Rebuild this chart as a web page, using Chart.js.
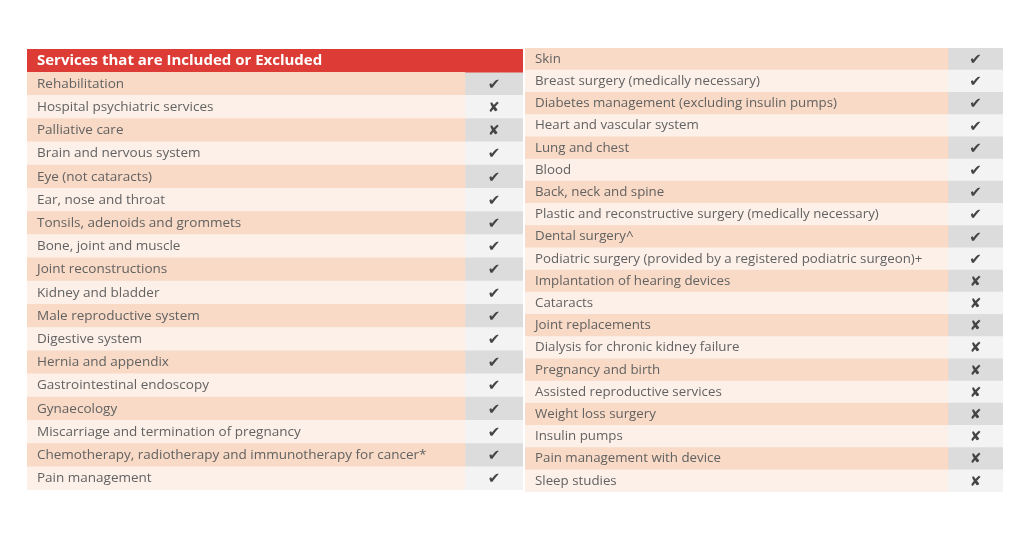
<!DOCTYPE html>
<html>
<head>
<meta charset="utf-8">
<script src="https://cdn.jsdelivr.net/npm/chart.js@4.4.1/dist/chart.umd.min.js"></script>
<style>
  html, body { margin: 0; padding: 0; background: #fff; }
  body { width: 1024px; height: 538px; position: relative; overflow: hidden; }
  .box { position: absolute; }
  #leftBox { left: 27px; top: 49px; width: 496px; height: 441px; }
  #rightBox { left: 525px; top: 48px; width: 478px; height: 444px; }
</style>
</head>
<body>
<div class="box" id="leftBox"><canvas id="leftTable"></canvas></div>
<div class="box" id="rightBox"><canvas id="rightTable"></canvas></div>
<script>
// left table
const leftHeader = 'Services that are Included or Excluded';
const leftServices = [
    'Rehabilitation', 'Hospital psychiatric services', 'Palliative care',
    'Brain and nervous system', 'Eye (not cataracts)', 'Ear, nose and throat',
    'Tonsils, adenoids and grommets', 'Bone, joint and muscle', 'Joint reconstructions',
    'Kidney and bladder', 'Male reproductive system', 'Digestive system',
    'Hernia and appendix', 'Gastrointestinal endoscopy', 'Gynaecology',
    'Miscarriage and termination of pregnancy',
    'Chemotherapy, radiotherapy and immunotherapy for cancer*', 'Pain management'
];
const leftIncluded = [1, 0, 0, 1, 1, 1, 1, 1, 1, 1, 1, 1, 1, 1, 1, 1, 1, 1];

// right table
const rightServices = [
    'Skin', 'Breast surgery (medically necessary)', 'Diabetes management (excluding insulin pumps)',
    'Heart and vascular system', 'Lung and chest', 'Blood', 'Back, neck and spine',
    'Plastic and reconstructive surgery (medically necessary)', 'Dental surgery^',
    'Podiatric surgery (provided by a registered podiatric surgeon)+',
    'Implantation of hearing devices', 'Cataracts', 'Joint replacements',
    'Dialysis for chronic kidney failure', 'Pregnancy and birth', 'Assisted reproductive services',
    'Weight loss surgery', 'Insulin pumps', 'Pain management with device', 'Sleep studies'
];
const rightIncluded = [1, 1, 1, 1, 1, 1, 1, 1, 1, 1, 0, 0, 0, 0, 0, 0, 0, 0, 0, 0];

const RED = '#dd3c36';
const PEACH = '#f8dac6';
const PEACH_LIGHT = '#fdf0e8';
const GREY = '#dcdcdc';
const GREY_LIGHT = '#f3f3f3';
const TEXT = '#626262';
const TEXT_FONT = 'Open Sans';

const marksPlugin = {
    id: 'marks',
    afterDatasetsDraw(chart) {
        const ctx = chart.ctx;
        const marks = chart.options.plugins.marks.values;
        const offset = chart.options.plugins.marks.offset;
        const meta = chart.getDatasetMeta(1);
        ctx.save();
        ctx.fillStyle = '#444444';
        ctx.textAlign = 'center';
        ctx.textBaseline = 'middle';
        meta.data.forEach((bar, i) => {
            const v = marks[i - offset];
            if (v === undefined) return;
            const cx = (bar.x + bar.base) / 2;
            ctx.font = v ? 'bold 15px "DejaVu Sans"' : 'bold 14px "DejaVu Sans"';
            ctx.fillText(v ? '\u2714' : '\u2718', cx, bar.y + 1);
        });
        ctx.restore();
    }
};

function makeTable(canvasId, labels, included, hasHeader, nameFrac, textSize) {
    const offset = hasHeader ? 1 : 0;
    const nameBand = labels.map((l, i) => (hasHeader && i === 0) ? 1 : nameFrac);
    const markBand = labels.map((l, i) => (hasHeader && i === 0) ? 0 : 1 - nameFrac);
    const rowIdx = i => i - offset;

    return new Chart(document.getElementById(canvasId), {
        type: 'bar',
        data: {
            labels: labels,
            datasets: [
                {
                    data: nameBand,
                    backgroundColor: c => (hasHeader && c.dataIndex === 0) ? RED
                        : (rowIdx(c.dataIndex) % 2 === 0 ? PEACH : PEACH_LIGHT),
                    borderWidth: 0,
                    categoryPercentage: 1,
                    barPercentage: 1
                },
                {
                    data: markBand,
                    backgroundColor: c => rowIdx(c.dataIndex) % 2 === 0 ? GREY : GREY_LIGHT,
                    borderWidth: 0,
                    categoryPercentage: 1,
                    barPercentage: 1
                }
            ]
        },
        options: {
            indexAxis: 'y',
            responsive: true,
            maintainAspectRatio: false,
            animation: false,
            events: [],
            layout: { padding: 0 },
            plugins: {
                legend: { display: false },
                tooltip: { enabled: false },
                marks: { values: included, offset: offset }
            },
            scales: {
                x: { display: false, stacked: true, min: 0, max: 1 },
                y: {
                    stacked: true,
                    grid: { display: false, drawTicks: false },
                    border: { display: false },
                    // labels sit inside the rows, so the axis takes no room
                    afterFit: s => { s.width = 0; s.paddingTop = 0; s.paddingBottom = 0; },
                    ticks: {
                        z: 1,
                        mirror: true,
                        padding: 10,
                        autoSkip: false,
                        color: c => (hasHeader && c.index === 0) ? '#ffffff' : TEXT,
                        font: c => (hasHeader && c.index === 0)
                            ? { family: TEXT_FONT, size: 15, weight: 'bold' }
                            : { family: TEXT_FONT, size: textSize }
                    }
                }
            }
        },
        plugins: [marksPlugin]
    });
}

makeTable('leftTable', [leftHeader].concat(leftServices), leftIncluded, true, 0.883, 13.5);
makeTable('rightTable', rightServices, rightIncluded, false, 0.885, 13.3);
</script>
</body>
</html>
